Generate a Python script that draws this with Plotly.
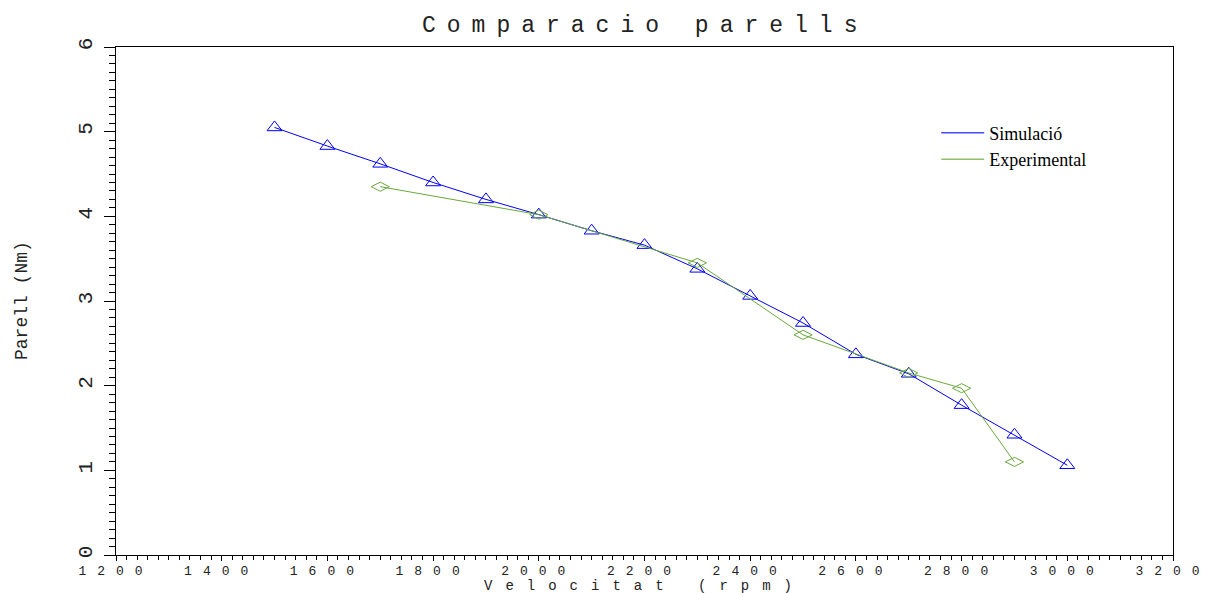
import plotly.graph_objects as go

# Data
sim_rpm = [1500, 1600, 1700, 1800, 1900, 2000, 2100, 2200, 2300, 2400, 2500, 2600, 2700, 2800, 2900, 3000]
sim_torque = [5.05, 4.83, 4.62, 4.40, 4.20, 4.02, 3.83, 3.66, 3.38, 3.06, 2.74, 2.37, 2.14, 1.77, 1.42, 1.06]

exp_rpm = [1700, 2000, 2300, 2500, 2700, 2800, 2900]
exp_torque = [4.35, 4.02, 3.45, 2.60, 2.15, 1.97, 1.10]

x_tickvals = [1200, 1400, 1600, 1800, 2000, 2200, 2400, 2600, 2800, 3000, 3200]
x_ticklabels = ["1200", "1400", "1600", "1800", "2000", "2200", "2400", "2600", "2800", "3000", "3200"]
y_tickvals = [0, 1, 2, 3, 4, 5, 6]
y_ticklabels = ["0", "1", "2", "3", "4", "5", "6"]

title_text = "Comparacio parells"
x_title = "Velocitat (rpm)"
y_title = "Parell (Nm)"
series_names = ["Simulació", "Experimental"]

BLUE = "#0000ff"
GREEN = "#6aa83c"
LEG_GREEN = "#8cbf6a"
LEG_BLUE = "#4a4aff"
MONO = "Liberation Mono"


def spaced(t, px):
    return '<span style="letter-spacing:%dpx">%s</span>' % (px, t)


fig = go.Figure()

fig.add_trace(go.Scatter(
    x=sim_rpm, y=sim_torque, mode="lines+markers", showlegend=False,
    line=dict(color=BLUE, width=1),
    marker=dict(symbol="triangle-up-open", size=13, color=BLUE, line=dict(width=1, color=BLUE)),
))
fig.add_trace(go.Scatter(
    x=exp_rpm, y=exp_torque, mode="lines+markers", showlegend=False,
    line=dict(color=GREEN, width=1),
    marker=dict(symbol="diamond-wide-open", size=13, color=GREEN, line=dict(width=1, color=GREEN)),
))
# legend entries (lines only)
fig.add_trace(go.Scatter(x=[None], y=[None], mode="lines", name=series_names[0],
                         line=dict(color=LEG_BLUE, width=1.5)))
fig.add_trace(go.Scatter(x=[None], y=[None], mode="lines", name=series_names[1],
                         line=dict(color=LEG_GREEN, width=1.5)))

fig.update_layout(
    width=1212, height=593,
    margin=dict(l=116, r=39, t=47, b=38, autoexpand=False),
    paper_bgcolor="white", plot_bgcolor="white",
    showlegend=True,
    legend=dict(x=0.776, y=0.867, xanchor="left", yanchor="top",
                bgcolor="rgba(0,0,0,0)", borderwidth=0,
                font=dict(family="Liberation Serif", size=18, color="black"),
                tracegroupgap=0, itemwidth=43),
    xaxis=dict(
        range=[1200, 3200], tickmode="array", tickvals=x_tickvals,
        ticktext=[spaced(t, 11) for t in x_ticklabels],
        showgrid=False, zeroline=False,
        showline=True, linecolor="black", linewidth=1, mirror=True,
        ticks="outside", ticklen=5, tickcolor="black", tickwidth=1,
        ticklabelstandoff=-2,
        tickfont=dict(family=MONO, size=13, color="#222222"),
        minor=dict(dtick=20, ticks="outside", ticklen=4, tickcolor="black", tickwidth=1, showgrid=False),
    ),
    yaxis=dict(
        range=[0, 6], tickmode="array", tickvals=y_tickvals, ticktext=y_ticklabels,
        showgrid=False, zeroline=False,
        showline=True, linecolor="black", linewidth=1, mirror=True,
        ticks="outside", ticklen=11, tickcolor="black", tickwidth=1,
        tickangle=-90, ticklabelstandoff=4,
        tickfont=dict(family=MONO, size=21, color="#222222"),
        minor=dict(dtick=0.1, ticks="outside", ticklen=6, tickcolor="black", tickwidth=1, showgrid=False),
    ),
    annotations=[
        dict(text=spaced(title_text, 11), x=0.5, y=1, xref="paper", yref="paper",
             xanchor="center", yanchor="bottom", yshift=6, showarrow=False,
             font=dict(family=MONO, size=23, color="#222222")),
        dict(text=spaced(x_title, 13), x=0.5, y=0, xref="paper", yref="paper",
             xanchor="center", yanchor="top", yshift=-21, showarrow=False,
             font=dict(family=MONO, size=14, color="#222222")),
        dict(text=y_title, x=0, y=0.5, xref="paper", yref="paper", textangle=-90,
             xanchor="center", yanchor="middle", xshift=-94, showarrow=False,
             font=dict(family=MONO, size=18, color="#222222")),
    ],
)

fig.write_html("out.html")
